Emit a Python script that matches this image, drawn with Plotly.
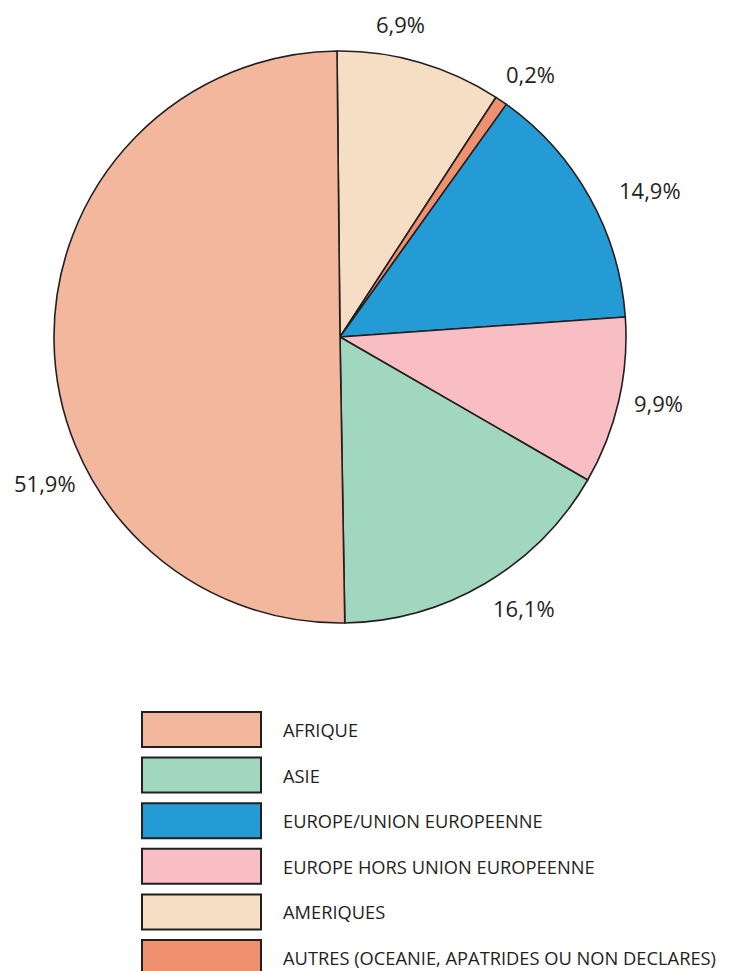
import plotly.graph_objects as go

W, H = 739, 971
OFF = 8  # page body margin in the browser
FW, FH = W - OFF, H - OFF

# Categories in legend order
categories = ["AFRIQUE", "ASIE", "EUROPE/UNION EUROPEENNE",
              "EUROPE HORS UNION EUROPEENNE", "AMERIQUES",
              "AUTRES (OCEANIE, APATRIDES OU NON DECLARES)"]
# Printed percentage labels
pct_labels = ["51,9%", "16,1%", "14,9%", "9,9%", "6,9%", "0,2%"]
# Slice shares as drawn in the picture (%)
slice_shares = [50.1, 16.4, 14.0, 9.45, 9.35, 0.7]
colors = ["#F2B79C", "#A1D7BF", "#259BD6", "#F9BEC3", "#F5DEC4", "#EF906E"]

# Order of slices clockwise from 12 o'clock
pie_order = [4, 5, 2, 3, 1, 0]

ink = "#231F20"
FONT = "Open Sans"

def px(x):
    return (x - OFF) / FW

def py(y):
    return 1 - (y - OFF) / FH

fig = go.Figure(go.Pie(
    labels=[categories[i] for i in pie_order],
    values=[slice_shares[i] for i in pie_order],
    marker=dict(colors=[colors[i] for i in pie_order], line=dict(color=ink, width=1.6)),
    sort=False,
    direction="clockwise",
    rotation=-0.6,
    textinfo="none",
    hoverinfo="label+percent",
    showlegend=False,
    domain=dict(x=[px(54), px(626)], y=[py(623), py(51)]),
))

# Percentage label positions (pixels), same order as categories
label_pos = [(45, 483), (524, 608), (650, 190), (658, 403), (400, 24), (530, 74)]
annotations = []
for txt, (lx, ly) in zip(pct_labels, label_pos):
    annotations.append(dict(x=px(lx), y=py(ly), xref="paper", yref="paper",
                            text=txt, showarrow=False, xanchor="center", yanchor="middle",
                            font=dict(family=FONT, size=22, color=ink)))

# Manual legend
shapes = []
row_top = 712
row_step = 45.6
box_h = 35
for k, (cat, col) in enumerate(zip(categories, colors)):
    y0 = row_top + k * row_step
    shapes.append(dict(type="rect", xref="paper", yref="paper",
                       x0=px(142), x1=px(261), y0=py(y0 + box_h), y1=py(y0),
                       fillcolor=col, line=dict(color=ink, width=2)))
    annotations.append(dict(x=px(281), y=py(y0 + box_h / 2), xref="paper", yref="paper",
                            text=cat, showarrow=False, xanchor="left", yanchor="middle",
                            font=dict(family=FONT, size=18.3, color=ink)))

fig.update_layout(
    width=FW, height=FH,
    margin=dict(l=0, r=0, t=0, b=0),
    paper_bgcolor="white", plot_bgcolor="white",
    shapes=shapes, annotations=annotations,
    font=dict(family=FONT, color=ink),
)

fig.write_html("out.html")
